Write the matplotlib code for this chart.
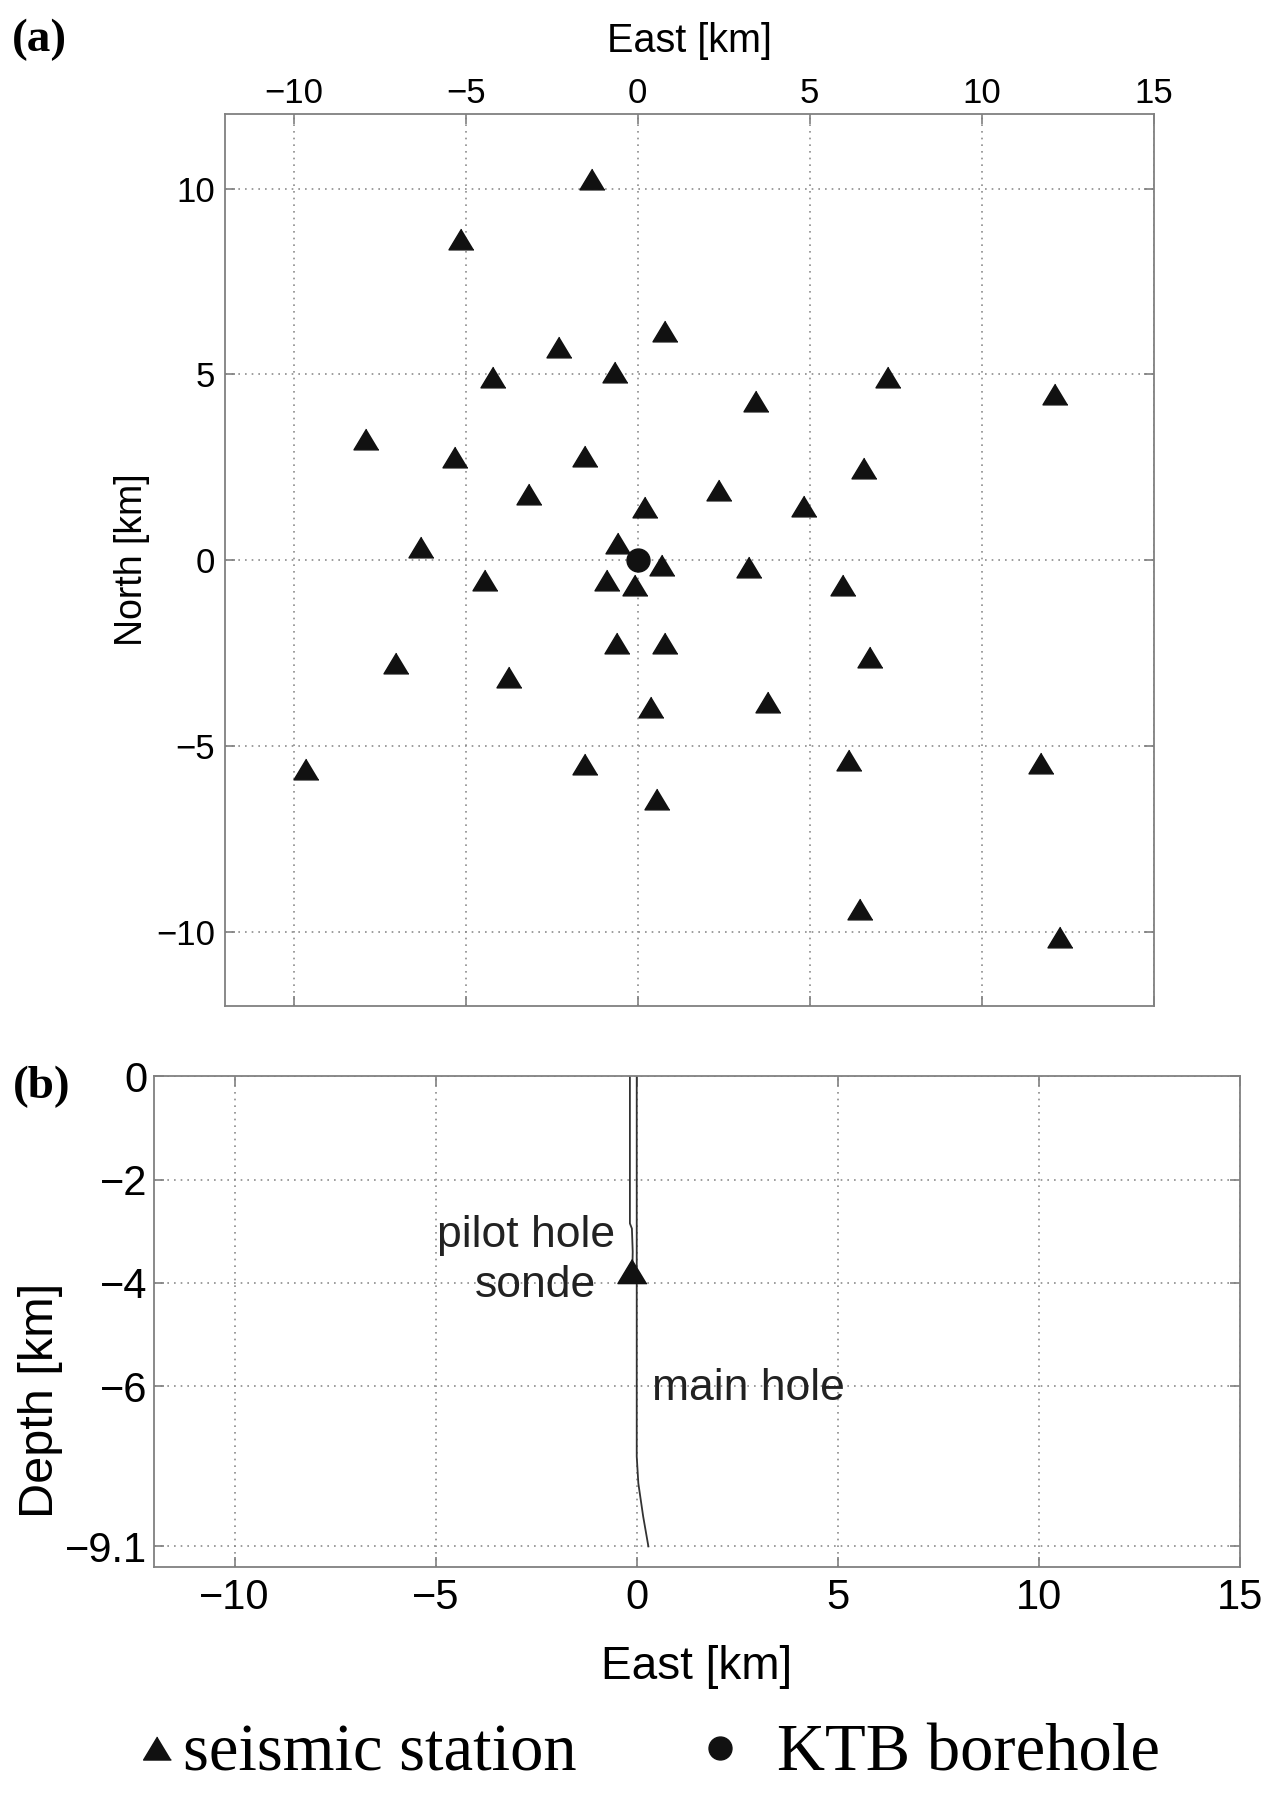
import matplotlib.pyplot as plt

plt.rcParams['font.family'] = ['Liberation Sans', 'DejaVu Sans']

# seismic stations [km]
station_east = [-1.32, -5.14, 0.80, -2.30, -4.22, -0.67, -7.89, -5.31, -1.54,
                -3.16, 0.20, -6.31, -0.58, 7.29, 12.12, 3.44, 6.58, 2.35,
                4.84, 3.24, 0.71, -4.44, -0.90, -0.08, -0.60, 0.80, -7.03,
                -3.73, 0.40, -9.63, -1.52, 0.55, 5.97, 6.75, 3.80, 6.13,
                11.73, 6.46, 12.28]
station_north = [10.26, 8.64, 6.16, 5.73, 4.93, 5.05, 3.26, 2.77, 2.79,
                 1.79, 1.44, 0.36, 0.45, 4.94, 4.47, 4.28, 2.49, 1.88,
                 1.46, -0.18, -0.13, -0.54, -0.54, -0.67, -2.24, -2.24, -2.77,
                 -3.14, -3.95, -5.62, -5.50, -6.42, -0.66, -2.62, -3.81, -5.38,
                 -5.46, -9.39, -10.15]
ktb_east = [0.0]
ktb_north = [0.0]

# borehole traces for panel (b)
main_east = [0.0, 0.0, 0.0, 0.04, 0.16, 0.29]
main_depth = [0.0, -4.0, -7.36, -7.88, -8.52, -9.1]
pilot_east = [-0.17, -0.17, -0.12, -0.10, -0.11]
pilot_depth = [0.0, -2.85, -2.95, -3.40, -3.77]
sonde_east = [-0.11]
sonde_depth = [-3.77]

east_ticks = [-10, -5, 0, 5, 10, 15]
north_ticks = [-10, -5, 0, 5, 10]
depth_ticks = [-9.1, -6, -4, -2, 0]
depth_ticklabels = ['\u22129.1', '\u22126', '\u22124', '\u22122', '0']

# matlab-like flat triangle
tri = [(0, 0.415), (-0.5, -0.415), (0.5, -0.415)]
grid_style = dict(color='#8c8c8c', linestyle=(0, (1, 3)), linewidth=1.2)
spine_col = '#808080'

fig = plt.figure(figsize=(12.7, 17.93), dpi=100)


def style_axes(ax, tick_size):
    for s in ax.spines.values():
        s.set_color(spine_col)
        s.set_linewidth(1.3)
    ax.tick_params(direction='in', length=7, width=1.2, color=spine_col,
                   top=True, bottom=True, left=True, right=True,
                   labelsize=tick_size)
    ax.grid(True, **grid_style)
    ax.set_axisbelow(True)


# panel (a): map view
ax1 = fig.add_axes([0.1771, 0.4390, 0.7313, 0.4973])
ax1.plot(station_east, station_north, linestyle='none', marker=tri,
         markersize=18, color='#111111')
ax1.plot(ktb_east, ktb_north, linestyle='none', marker='o',
         markersize=16.5, color='#111111')
ax1.set_xlim(-12, 15)
ax1.set_ylim(-12, 12)
ax1.set_xticks(east_ticks)
ax1.set_yticks(north_ticks)
style_axes(ax1, 25)
ax1.tick_params(axis='x', labeltop=True, labelbottom=False, pad=3)
ax1.tick_params(axis='y', pad=7)
ax1.xaxis.set_label_position('top')
ax1.set_xlabel('East [km]', fontsize=28.5)
ax1.xaxis.set_label_coords(0.5, 1.0697)
ax1.set_ylabel('North [km]', fontsize=27)
ax1.yaxis.set_label_coords(-0.0806, 0.5)

# panel (b): depth section
ax2 = fig.add_axes([0.1215, 0.1260, 0.8547, 0.2738])
ax2.plot(main_east, main_depth, color='#333333', linewidth=1.3)
ax2.plot(pilot_east, pilot_depth, color='#333333', linewidth=1.3)
ax2.plot(sonde_east, sonde_depth, linestyle='none', marker=tri,
         markersize=21, color='#111111')
ax2.set_xlim(-12, 15)
ax2.set_ylim(-9.5, 0)
ax2.set_xticks(east_ticks)
ax2.set_yticks(depth_ticks)
ax2.set_yticklabels(depth_ticklabels)
style_axes(ax2, 30)
ax2.tick_params(axis='x', pad=8)
ax2.tick_params(axis='y', pad=5)
ax2.set_xlabel('East [km]', fontsize=33)
ax2.xaxis.set_label_coords(0.5, -0.159)
ax2.set_ylabel('Depth [km]', fontsize=35)
ax2.yaxis.set_label_coords(-0.0841, 0.34)

ax2.text(-0.54, -3.30, 'pilot hole', fontsize=32, ha='right', va='baseline',
         color='#222222')
ax2.text(-1.01, -4.27, 'sonde', fontsize=32, ha='right', va='baseline',
         color='#222222')
ax2.text(0.37, -6.27, 'main hole', fontsize=32, ha='left', va='baseline',
         color='#222222')

# panel letters
fig.text(0.009, 0.9777, '(a)', family='Liberation Serif', weight='bold',
         fontsize=34, va='center', ha='left')
fig.text(0.0102, 0.3937, '(b)', family='Liberation Serif', weight='bold',
         fontsize=34, va='center', ha='left')

# legend strip at the bottom
h_sta = plt.Line2D([], [], linestyle='none', marker=tri, markersize=20,
                   color='#111111')
h_ktb = plt.Line2D([], [], linestyle='none', marker='o', markersize=16.5,
                   color='#111111')
leg_font = {'family': 'Liberation Serif', 'size': 48}
fig.legend([h_sta], ['seismic station'], loc='center left',
           bbox_to_anchor=(0.1123, 0.0215), frameon=False, prop=leg_font,
           handlelength=0.43, handletextpad=0.17, borderpad=0,
           borderaxespad=0)
fig.legend([h_ktb], ['KTB borehole'], loc='center left',
           bbox_to_anchor=(0.5556, 0.0215), frameon=False, prop=leg_font,
           handlelength=0.43, handletextpad=0.64, borderpad=0,
           borderaxespad=0)

fig.savefig('out.png', dpi=100, facecolor='white')
